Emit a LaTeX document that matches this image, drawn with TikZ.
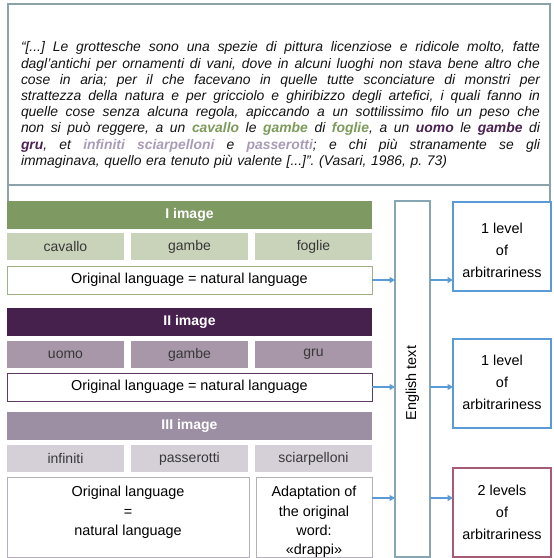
\documentclass[tikz,border=0pt]{standalone}
\usepackage{fontspec}
\setmainfont{Liberation Sans}
\usetikzlibrary{arrows.meta}
\definecolor{qframe}{HTML}{8AA2A8}
\definecolor{gdark}{HTML}{7F9962}
\definecolor{glight}{HTML}{C9D3BA}
\definecolor{gline}{HTML}{9DB183}
\definecolor{pdark}{HTML}{46214E}
\definecolor{plight}{HTML}{A896A9}
\definecolor{pline}{HTML}{5E3A64}
\definecolor{ldark}{HTML}{9D8FA3}
\definecolor{llight}{HTML}{D5CFD8}
\definecolor{lline}{HTML}{B4AEBA}
\definecolor{eline}{HTML}{86A6B4}
\definecolor{bline}{HTML}{5B9BD5}
\definecolor{rline}{HTML}{A65A73}
\definecolor{arrowc}{HTML}{5B9BD5}
\definecolor{qgreen}{HTML}{7D9B5A}
\definecolor{qpurple}{HTML}{4A2150}
\definecolor{qlilac}{HTML}{A99CB8}
\newcommand{\hlg}[1]{\textcolor{qgreen}{\textbf{#1}}}
\newcommand{\hlp}[1]{\textcolor{qpurple}{\textbf{#1}}}
\newcommand{\hll}[1]{\textcolor{qlilac}{\textbf{#1}}}
\newcommand{\qline}[1]{\makebox[519pt][s]{\spaceskip=0.278em plus 1fil minus 0.05em\xspaceskip=\spaceskip #1}}
\begin{document}
\begin{tikzpicture}[x=1pt,y=-1pt,
  every node/.style={inner sep=0pt, outer sep=0pt},
  bar/.style={fill=#1, anchor=north west, minimum width=365pt, minimum height=28pt, text=white, font=\bfseries\fontsize{14}{16}\selectfont},
  cell/.style={fill=#1, anchor=north west, minimum width=117pt, minimum height=27pt, text=black!78, font=\fontsize{14}{16}\selectfont},
  obox/.style={draw=#1, line width=1pt, fill=white, anchor=north west, minimum width=365pt, minimum height=28pt, text=black, font=\fontsize{14.4}{17}\selectfont},
  lbox/.style={draw=lline, line width=1pt, fill=white, anchor=north west, minimum height=80pt},
  ltext/.style={align=center, text=black, font=\fontsize{14.4}{19.3}\selectfont},
  rbox/.style={draw=#1, line width=1.1pt, anchor=north west, minimum width=98pt, minimum height=89pt},
  rtext/.style={align=center, text=black, font=\fontsize{14.4}{22}\selectfont},
  arr/.style={draw=arrowc, line width=1.3pt, -{Triangle[length=5.5pt,width=6pt]}},
]
\useasboundingbox[fill=white] (0,0) rectangle (554,558);

% quote box
\node[draw=qframe, line width=1.2pt, anchor=north west, minimum width=542pt, minimum height=181pt] (quote) at (8,4) {};
\node[align=left, text width=519pt, text=black!92, font=\frenchspacing\itshape\fontsize{13.9}{16.2}\selectfont] (qtext) at (280.5,105) {%
\qline{“[...] Le grottesche sono una spezie di pittura licenziose e ridicole molto, fatte}\\
\qline{dagl’antichi per ornamenti di vani, dove in alcuni luoghi non stava bene altro che}\\
\qline{cose in aria; per il che facevano in quelle tutte sconciature di monstri per}\\
\qline{strattezza della natura e per gricciolo e ghiribizzo degli artefici, i quali fanno in}\\
\qline{quelle cose senza alcuna regola, apiccando a un sottilissimo filo un peso che}\\
\qline{non si può reggere, a un \hlg{cavallo} le \hlg{gambe} di \hlg{foglie}, a un \hlp{uomo} le \hlp{gambe} di}\\
\qline{\hlp{gru}, et \hll{infiniti sciarpelloni} e \hll{passerotti}; e chi più stranamente se gli}\\
immaginava, quello era tenuto più valente [...]”. (Vasari, 1986, p. 73)};

% I image
\node[bar=gdark] (bar1) at (7,201) {I image};
\draw[qframe, line width=1.2pt] (quote.south west) -- (quote.south west |- bar1.north);
\draw[qframe, line width=1.2pt] (quote.south east) -- (quote.south east |- bar1.north);
\node[cell=glight] (c11) at (7,233) {cavallo};
\node[cell=glight] (c12) at (131,233) {gambe};
\node[cell=glight] (c13) at (255,233) {foglie};
\node[obox=gline] (o1) at (7,266) {Original language = natural language};

% II image
\node[bar=pdark] (bar2) at (7,308) {II image};
\node[cell=plight] (c21) at (7,341) {uomo};
\node[cell=plight] (c22) at (131,341) {gambe};
\node[cell=plight] (c23) at (255,341) {gru};
\node[obox=pline] (o2) at (7,373) {Original language = natural language};

% III image
\node[bar=ldark] (bar3) at (7,412) {III image};
\node[cell=llight] (c31) at (7,445) {infiniti};
\node[cell=llight] (c32) at (131,445) {passerotti};
\node[cell=llight] (c33) at (255,445) {sciarpelloni};
\node[lbox, minimum width=242pt] (o3) at (7,477) {};
\node[lbox, minimum width=116pt] (adapt) at (256,477) {};
\node[ltext, anchor=north] (o3t) at ([yshift=-9.5pt]o3.north) {Original language\\=\\natural language};
\node[ltext, anchor=north] (adaptt) at ([yshift=-9.5pt]adapt.north) {Adaptation of\\the original\\word:\\«drappi»};

% English text
\node[draw=eline, line width=1.1pt, anchor=north west, minimum width=35pt, minimum height=356pt] (eng) at (395,201) {};
\node[rotate=90, font=\fontsize{14.4}{17}\selectfont] (englabel) at ([yshift=-4pt]eng.center) {English text};

% right boxes
\node[rbox=bline] (r1) at (453,202) {};
\node[rbox=bline] (r2) at (453,339) {};
\node[rbox=rline] (r3) at (453,468) {};
\node[rtext] (r1t) at ([yshift=-3.5pt]r1.center) {1 level\\of\\arbitrariness};
\node[rtext] (r2t) at ([yshift=1.5pt]r2.center) {1 level\\of\\arbitrariness};
\node[rtext] (r3t) at (r3.center) {2 levels\\of\\arbitrariness};

% arrows
\coordinate (a3) at (0,498);
\draw[arr] (o1.east) -- (eng.west |- o1.east);
\draw[arr] (eng.east |- o1.east) -- (r1.west |- o1.east);
\draw[arr] (o2.east) -- (eng.west |- o2.east);
\draw[arr] (eng.east |- o2.east) -- (r2.west |- o2.east);
\draw[arr] (adapt.east |- a3) -- (eng.west |- a3);
\draw[arr] (eng.east |- a3) -- (r3.west |- a3);
\end{tikzpicture}
\end{document}
